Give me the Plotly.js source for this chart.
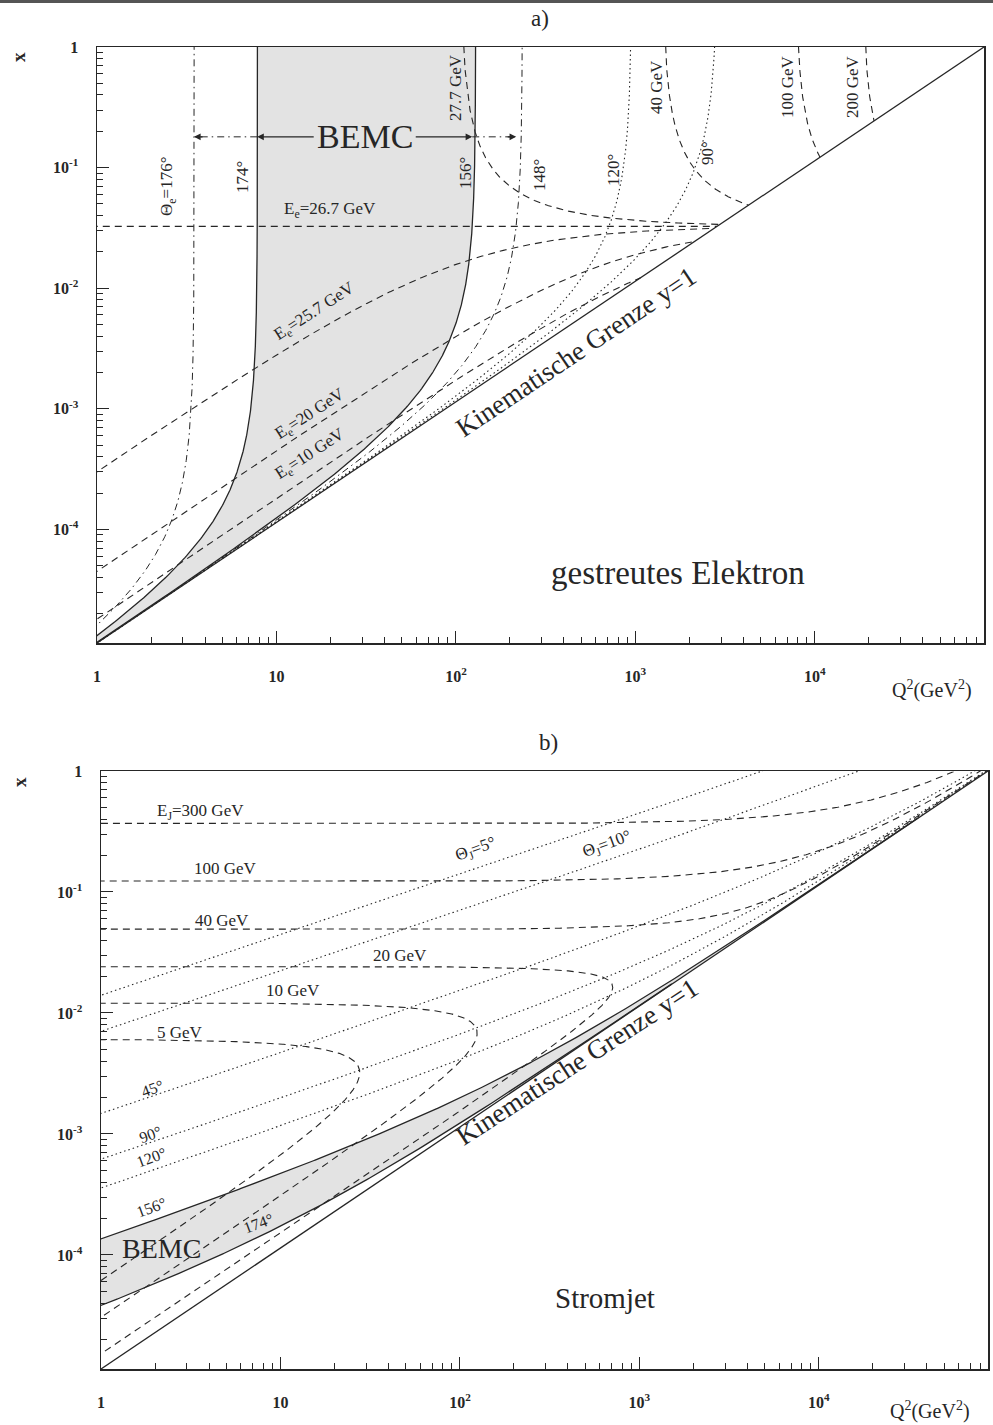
<!DOCTYPE html>
<html><head><meta charset="utf-8">
<script src="https://cdn.plot.ly/plotly-3.0.1.min.js"></script>
<style>html,body{margin:0;padding:0;background:#fff}</style>
</head><body><div id="chart" style="width:993px;height:1425px"></div>
<script>
// ---- beam energies (HERA) ----
const E_BEAM_E = 26.7;   // GeV
const E_BEAM_P = 820;    // GeV
// ---- panel a: scattered electron ----
const elecThetaDashDot = [176, 148];
const elecThetaBEMC    = [174, 156];
const elecThetaDotted  = [120, 90];
const elecEnergies     = [26.7, 25.7, 20, 10, 27.7, 40, 100, 200];
// ---- panel b: current jet ----
const jetEnergies      = [300, 100, 40, 20, 10, 5];
const jetThetaDotted   = [5, 10, 45, 90, 120];
const jetThetaBEMC     = [156, 174];
// ---- tick labels ----
const xTickVals = [1, 10, 100, 1000, 10000];
const xTickText = ['1', '10', '10<sup>2</sup>', '10<sup>3</sup>', '10<sup>4</sup>'];
const yTickVals = [1, 0.1, 0.01, 0.001, 0.0001];
const yTickText = ['1', '10<sup>-1</sup>', '10<sup>-2</sup>', '10<sup>-3</sup>', '10<sup>-4</sup>'];

const W = 993, H = 1425;
const S = 4 * E_BEAM_E * E_BEAM_P;
const L = Math.log10(S);
const DEG = Math.PI / 180;

function logspace(a, b, n) { const o = []; for (let i = 0; i < n; i++) o.push(Math.pow(10, a + (b - a) * i / (n - 1))); return o; }

// ---- electron method: Q2 = 2 Ee E' (1+cos), y = 1 - E'/(2Ee) (1-cos), x = Q2/(s y)
function elecAtTheta(th) {
  const c = Math.cos(th * DEG); const X = [], Y = [];
  const ys = [];
  for (const t of logspace(-9, Math.log10(0.5), 1200)) ys.push(1 - t);
  for (const t of logspace(Math.log10(0.5), -8, 2500)) ys.push(t);
  for (const y of ys) {
    const E = 2 * E_BEAM_E * (1 - y) / (1 - c);
    const Q2 = 2 * E_BEAM_E * E * (1 + c);
    const x = Q2 / (S * y);
    X.push(Q2); Y.push(x);
    if (x > 1) break;
  }
  return { X, Y };
}
function elecAtE(E) {
  const X = [], Y = [];
  if (E > E_BEAM_E) {
    for (const y of logspace(-7, 0, 3000)) {
      const u = 2 - 2 * E_BEAM_E * (1 - y) / E;
      const Q2 = 2 * E_BEAM_E * E * u;
      const x = Q2 / (S * y);
      if (x > 50) continue;
      X.push(Q2); Y.push(x);
    }
  } else {
    for (const u of logspace(-7, Math.log10(2), 3000)) {
      const Q2 = 2 * E_BEAM_E * E * u;
      const y = 1 - E / (2 * E_BEAM_E) * (2 - u);
      if (y <= 0) continue;
      X.push(Q2); Y.push(Q2 / (S * y));
    }
  }
  return { X, Y };
}
// ---- jet (hadron) method: y = EJ(1-cos)/(2Ee), Q2 = EJ^2 sin^2/(1-y), x = Q2/(s y)
function jetAtE(E) {
  const X = [], Y = [];
  const pts = [];
  for (const v of logspace(-9, 0, 2000)) pts.push([1 - v, v * (2 - v)]);
  for (const u of logspace(0, -9, 2000)) pts.push([u - 1, u * (2 - u)]);
  for (const [c, s2] of pts) {
    const y = E * (1 - c) / (2 * E_BEAM_E);
    if (y >= 1) break;
    const Q2 = E * E * s2 / (1 - y);
    const x = Q2 / (S * y);
    if (x > 50) break;
    X.push(Q2); Y.push(x);
  }
  return { X, Y };
}
function jetAtTheta(th) {
  const c = Math.cos(th * DEG), s2 = Math.sin(th * DEG) ** 2; const X = [], Y = [];
  for (const E of logspace(-3, 4, 3000)) {
    const y = E * (1 - c) / (2 * E_BEAM_E);
    if (y >= 1) break;
    const Q2 = E * E * s2 / (1 - y);
    const x = Q2 / (S * y);
    X.push(Q2); Y.push(x);
    if (x > 1) break;
  }
  return { X, Y };
}

const INK = '#262626';
const DASH = '7px,5px', DOT = '1.5px,3px', DASHDOT = '7px,4px,1.5px,4px';
const traces = [];
function line(c, ax, dash, w) {
  traces.push({ type: 'scatter', mode: 'lines', x: c.X, y: c.Y, xaxis: ax[0], yaxis: ax[1],
    line: { color: INK, width: w || 1.1, dash: dash || 'solid' }, hoverinfo: 'skip', showlegend: false });
}
function band(a, b, ax) {
  traces.push({ type: 'scatter', mode: 'lines', x: a.X.concat(b.X.slice().reverse()), y: a.Y.concat(b.Y.slice().reverse()),
    xaxis: ax[0], yaxis: ax[1], fill: 'toself', fillcolor: 'rgba(200,200,200,0.5)', line: { width: 0 },
    hoverinfo: 'skip', showlegend: false });
}
const A = ['x', 'y'], B = ['x2', 'y2'];
// kinematic limit y=1
const limQ2 = [1, S], limX = limQ2.map(q => q / S);

// panel a
band(elecAtTheta(elecThetaBEMC[0]), elecAtTheta(elecThetaBEMC[1]), A);
elecThetaBEMC.forEach(t => line(elecAtTheta(t), A, 'solid', 1.3));
elecThetaDashDot.forEach(t => line(elecAtTheta(t), A, DASHDOT, 1));
elecThetaDotted.forEach(t => line(elecAtTheta(t), A, DOT, 1.1));
elecEnergies.forEach(e => line(elecAtE(e), A, DASH, 1.1));
line({ X: limQ2, Y: limX }, A, 'solid', 1.3);

// panel b
band(jetAtTheta(jetThetaBEMC[0]), jetAtTheta(jetThetaBEMC[1]), B);
jetThetaBEMC.forEach(t => line(jetAtTheta(t), B, 'solid', 1.3));
jetThetaDotted.forEach(t => line(jetAtTheta(t), B, DOT, 1.1));
jetEnergies.forEach(e => line(jetAtE(e), B, DASH, 1.1));
line({ X: limQ2, Y: limX }, B, 'solid', 1.3);

// minor tick positions
const minorX = [], minorY = [];
for (let d = 0; d <= 4; d++) for (let k = 2; k <= 9; k++) minorX.push(k * Math.pow(10, d));
for (let d = -5; d <= -1; d++) for (let k = 2; k <= 9; k++) minorY.push(k * Math.pow(10, d));

const tickFont = { family: 'Liberation Serif', size: 16, color: INK };
const bold = a => a.map(t => '<b>' + t + '</b>');
function xax(dom, anchor) {
  return { type: 'log', domain: dom, anchor: anchor, range: [0, L], tickmode: 'array', tickvals: xTickVals,
    ticktext: bold(xTickText), ticks: 'inside', ticklen: 12, tickwidth: 1, tickcolor: INK, tickfont: tickFont,
    ticklabelstandoff: 18, minor: { tickmode: 'array', tickvals: minorX, ticks: 'inside', ticklen: 6, tickwidth: 1, tickcolor: INK, showgrid: false },
    showgrid: false, zeroline: false, showline: true, linecolor: INK, linewidth: 1.5, mirror: true };
}
function yax(dom, anchor) {
  return { type: 'log', domain: dom, anchor: anchor, range: [-L, 0], tickmode: 'array', tickvals: yTickVals,
    ticktext: bold(yTickText), ticks: 'inside', ticklen: 12, tickwidth: 1, tickcolor: INK, tickfont: tickFont,
    ticklabelstandoff: 14, minor: { tickmode: 'array', tickvals: minorY, ticks: 'inside', ticklen: 6, tickwidth: 1, tickcolor: INK, showgrid: false },
    showgrid: false, zeroline: false, showline: true, linecolor: INK, linewidth: 1.5, mirror: true };
}

const SERIF = 'Liberation Serif';
const ann = [];
function lab(text, px, py, size, angle, extra) {
  ann.push(Object.assign({ text: text, xref: 'paper', yref: 'paper', x: px / W, y: 1 - py / H,
    xanchor: 'center', yanchor: 'middle', showarrow: false, textangle: angle || 0,
    font: { family: SERIF, size: size, color: INK } }, extra || {}));
}
// titles & axis titles
lab('a)', 540, 19, 23);
lab('b)', 548, 742, 23);
lab('<b>x</b>', 18, 57, 19, -90);
lab('<b>x</b>', 20, 782, 19, -90);
lab('Q<sup>2</sup>(GeV<sup>2</sup>)', 932, 690, 20);
lab('Q<sup>2</sup>(GeV<sup>2</sup>)', 930, 1410, 20);
// panel a labels
lab('Θ<sub>e</sub>=176°', 168, 187, 17, -90);
lab('174°', 243, 177, 17, -90);
lab('BEMC', 365, 137, 34);
lab('27.7 GeV', 455, 88, 17, -90);
lab('156°', 465, 173, 17, -90);
lab('148°', 540, 175, 17, -90);
lab('120°', 613, 170, 17, -90);
lab('40 GeV', 657, 87, 17, -90);
lab('90°', 708, 153, 17, -90);
lab('100 GeV', 788, 87, 17, -90);
lab('200 GeV', 853, 87, 17, -90);
lab('E<sub>e</sub>=26.7 GeV', 330, 210, 17);
lab('E<sub>e</sub>=25.7 GeV', 315, 312, 17, -33);
lab('E<sub>e</sub>=20 GeV', 310, 415, 17, -33);
lab('E<sub>e</sub>=10 GeV', 310, 455, 17, -33);
lab('Kinematische Grenze y=1', 576, 352, 27, -33.8);
lab('gestreutes Elektron', 678, 573, 33);
// panel b labels
lab('E<sub>J</sub>=300 GeV', 200, 812, 17);
lab('100 GeV', 225, 868, 17);
lab('40 GeV', 222, 920, 17);
lab('20 GeV', 400, 955, 17);
lab('10 GeV', 293, 990, 17);
lab('5 GeV', 180, 1032, 17);
lab('Θ<sub>J</sub>=5°', 476, 850, 17, -20);
lab('Θ<sub>J</sub>=10°', 607, 845, 17, -20);
lab('45°', 152, 1088, 16, -20);
lab('90°', 150, 1134, 16, -20);
lab('120°', 151, 1157, 16, -20);
lab('156°', 151, 1207, 16, -20);
lab('174°', 258, 1223, 16, -20);
lab('BEMC', 161, 1248, 28);
lab('Kinematische Grenze y=1', 577, 1062, 27, -33);
lab('Stromjet', 605, 1298, 29);

// BEMC arrows in panel a (at the asymptotic Q2 of the angle lines, E' = Ee)
const asymQ2 = th => 2 * E_BEAM_E * E_BEAM_E * (1 + Math.cos(th * DEG));
const arrowY = -0.745;
const XD = [97 / W, 984 / W], YD = [1 - 643 / H, 1 - 47 / H];
const px = lq => XD[0] + lq / L * (XD[1] - XD[0]);
const py = lx => YD[1] + lx / L * (YD[1] - YD[0]);
function arrowTo(th, tailPx) {
  ann.push({ xref: 'x', yref: 'y', x: Math.log10(asymQ2(th)), y: arrowY, ax: tailPx, ay: 0, text: '',
    showarrow: true, arrowhead: 2, arrowsize: 1.1, arrowwidth: 1.2, arrowcolor: INK });
}
arrowTo(174, 58);
arrowTo(156, -58);
arrowTo(176, 10);
arrowTo(148, -10);
function ddLine(t0, t1) {
  return { type: 'line', xref: 'paper', yref: 'paper', x0: px(Math.log10(asymQ2(t0))), x1: px(Math.log10(asymQ2(t1))),
    y0: py(arrowY), y1: py(arrowY), line: { color: INK, width: 1, dash: DASHDOT } };
}
const shapes = [
  ddLine(174, 176), ddLine(156, 148),
  { type: 'rect', xref: 'paper', yref: 'paper', x0: 0, x1: 1, y0: 1 - 3 / H, y1: 1, fillcolor: '#555', line: { width: 0 } }
];

const layout = {
  width: W, height: H, margin: { l: 0, r: 0, t: 0, b: 0 }, paper_bgcolor: '#fff', plot_bgcolor: 'rgba(0,0,0,0)',
  showlegend: false,
  xaxis: xax(XD, 'y'),
  yaxis: yax(YD, 'x'),
  xaxis2: xax([101 / W, 988 / W], 'y2'),
  yaxis2: yax([1 - 1369 / H, 1 - 771 / H], 'x2'),
  annotations: ann, shapes: shapes
};
Plotly.newPlot('chart', traces, layout, { staticPlot: true, displayModeBar: false });
</script></body></html>
